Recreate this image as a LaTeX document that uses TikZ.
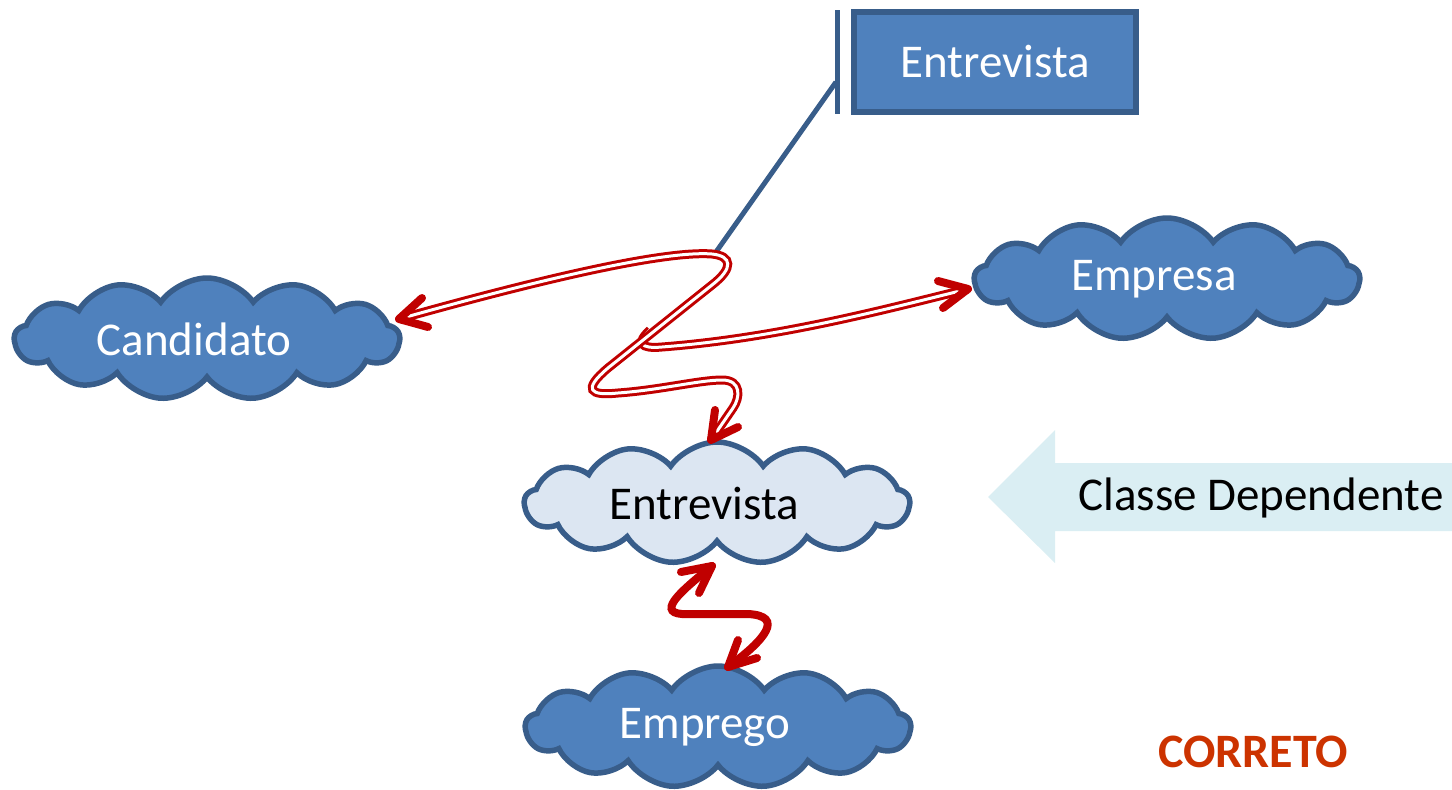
\documentclass[tikz,border=0pt]{standalone}
\usepackage{fontspec}
\setmainfont{Carlito}
\usetikzlibrary{shapes.symbols}
\definecolor{cfill}{HTML}{4F81BD}
\definecolor{cline}{HTML}{385D8A}
\definecolor{clight}{HTML}{DCE6F2}
\definecolor{arrfill}{HTML}{DAEEF3}
\definecolor{rred}{HTML}{C00000}
\definecolor{okred}{HTML}{CC3300}
\tikzset{
  bigtxt/.style={font=\fontsize{47}{52}\selectfont},
  cloudbox/.style={cloud, cloud puffs=13, cloud puff arc=110, aspect=3.3,
     draw=cline, line width=5.5pt, fill=cfill, text=white, bigtxt,
     minimum width=385pt, minimum height=122pt, inner sep=0pt},
  lightcloud/.style={cloudbox, fill=clight, text=black},
  classbox/.style={rectangle, draw=cline, line width=5.5pt, fill=cfill, text=white, bigtxt,
     minimum width=282pt, minimum height=100pt},
  assoc/.style={draw=cline, line width=5pt},
  dblred/.style={draw=rred, line width=3pt, double=white, double distance=3pt},
  redtip/.style={draw=rred, line width=8pt, line cap=round, line join=round},
  redthick/.style={draw=rred, line width=8pt, line cap=round},
}
\begin{document}
\begin{tikzpicture}[x=1pt,y=-1pt]
\useasboundingbox (0,0) rectangle (1452,790);

% dependency arrow shape
\fill[arrfill] (988,497) -- (1055,430) -- (1055,463) -- (1452,463) -- (1452,531) -- (1055,531) -- (1055,563) -- cycle;
\node[bigtxt, anchor=center] (dep) at (1261,498) {Classe Dependente};

% association class box
\node[classbox] (box) at (995,62) {Entrevista};
\coordinate (barT) at (837,10);
\coordinate (barB) at (837,114);
\coordinate (barJ) at (836,82);
\coordinate (assocEnd) at (716,252);
\draw[assoc] (barT) -- (barB);
\draw[assoc] (barJ) -- (assocEnd);

% clouds
\node[cloudbox] (cand) at (207,339) {\hspace*{-26pt}Candidato};
\node[cloudbox] (empr) at (1167,279) {\hspace*{-26pt}Empresa};
\node[lightcloud] (entc) at (717,503) {\hspace*{-26pt}Entrevista};
\node[cloudbox] (empg) at (718,727) {\hspace*{-26pt}Emprego};

% red double connectors
\coordinate (tipC) at (399,319);
\coordinate (tipE) at (968,289);
\coordinate (tipN) at (711,440);
\coordinate (br) at (650,330);

\draw[dblred] (br) .. controls (636,343) and (640,349) .. (662,347)
   .. controls (780,338) and (890,308) .. (tipE);
\draw[dblred] (tipC) .. controls (520,285) and (660,250) .. (712,254)
   .. controls (732,256) and (734,268) .. (712,285)
   -- (608,368) .. controls (582,390) and (590,396) .. (618,393)
   .. controls (660,390) and (700,380) .. (722,380)
   .. controls (742,380) and (740,398) .. (733,408)
   -- (tipN);

\draw[redtip] (422,298) -- (tipC) -- (428,327);
\draw[redtip] (938,281) -- (tipE) -- (943,308);
\draw[redtip] (715,410) -- (tipN) -- (738,427);

% lower red connector
\coordinate (tipU) at (712,566);
\coordinate (tipD) at (728,667);
\draw[redthick] (tipU) .. controls (685,588) and (655,612) .. (682,614)
   -- (748,614) .. controls (785,616) and (765,640) .. (tipD);
\draw[redtip] (681,572) -- (tipU) -- (699,593);
\draw[redtip] (738,640) -- (tipD) -- (757,658);

% verdict
\node[font=\fontsize{48}{52}\selectfont\bfseries, text=okred] (ok) at (1253,752) {CORRETO};
\end{tikzpicture}
\end{document}
